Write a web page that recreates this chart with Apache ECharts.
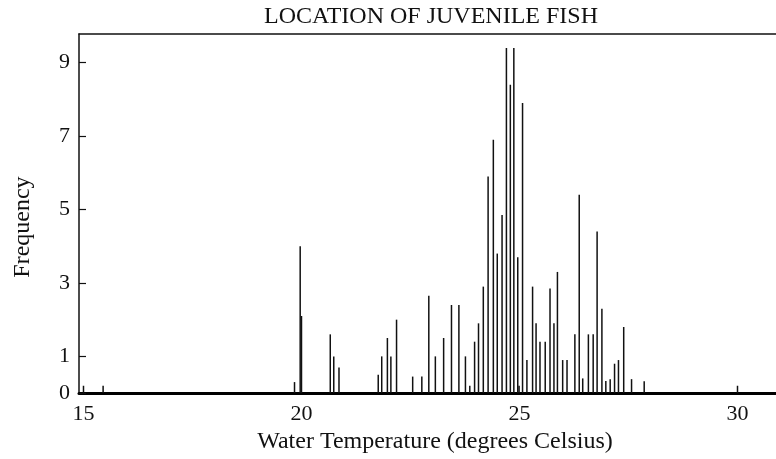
<!DOCTYPE html>
<html>
<head>
<meta charset="utf-8">
<script src="https://cdn.jsdelivr.net/npm/echarts@6/dist/echarts.min.js"></script>
<style>
  html, body { margin: 0; padding: 0; background: #fff; }
  #main { width: 776px; height: 459px; }
</style>
</head>
<body>
<div id="main"></div>
<script>
// water temperature (deg C) of each spike and its frequency
const temps = [
  15.0, 15.45, 19.84, 19.97, 20.0,
  20.66, 20.74, 20.86, 21.76, 21.84, 21.97, 22.05, 22.18,
  22.55, 22.76, 22.92, 23.07, 23.26, 23.44, 23.61, 23.76, 23.86, 23.97,
  24.06, 24.17, 24.28, 24.4, 24.49, 24.6, 24.7, 24.79, 24.87, 24.96, 24.99,
  25.07, 25.17, 25.3, 25.38, 25.47, 25.59, 25.7, 25.79, 25.87, 25.99,
  26.09, 26.27, 26.37, 26.45, 26.58, 26.69, 26.78, 26.89, 26.98,
  27.08, 27.18, 27.27, 27.39, 27.57, 27.86, 30.0
]
const freqs = [
  0.2, 0.2, 0.3, 4.0, 2.1,
  1.6, 1.0, 0.7, 0.5, 1.0, 1.5, 1.0, 2.0,
  0.45, 0.45, 2.65, 1.0, 1.5, 2.4, 2.4, 1.0, 0.2, 1.4,
  1.9, 2.9, 5.9, 6.9, 3.8, 4.85, 9.4, 8.4, 9.4, 3.7, 0.2,
  7.9, 0.9, 2.9, 1.9, 1.4, 1.4, 2.85, 1.9, 3.3, 0.9,
  0.9, 1.6, 5.4, 0.4, 1.6, 1.6, 4.4, 2.3, 0.33,
  0.38, 0.8, 0.9, 1.8, 0.38, 0.32, 0.2
]
const xTicks = [15, 20, 25, 30]
const yTicks = [0, 1, 3, 5, 7, 9]

const myChart = echarts.init(document.getElementById('main'))
const font = '"Liberation Serif", "Times New Roman", serif'
const spikes = temps.map((t, i) => [t, freqs[i]])

const option = {
  animation: false,
  title: {
    text: 'LOCATION OF JUVENILE FISH',
    left: 259,
    top: 0,
    textStyle: { fontFamily: font, fontSize: 24, fontWeight: 'normal', color: '#111' },
  },
  grid: { left: 79, right: 0, top: 34, bottom: 64, containLabel: false },
  xAxis: [
    {
      type: 'value',
      min: 14.897,
      max: 30.883,
      name: 'Water Temperature (degrees Celsius)',
      nameLocation: 'middle',
      nameGap: 30,
      nameTextStyle: { fontFamily: font, fontSize: 24, color: '#111', padding: [0, 0, 0, 15] },
      axisLine: { lineStyle: { color: '#000', width: 3 } },
      axisTick: { show: false },
      splitLine: { show: false },
      axisLabel: {
        customValues: xTicks,
        margin: 10,
        fontFamily: font,
        fontSize: 22,
        color: '#111',
      },
    },
    {
      // top frame line
      type: 'value',
      position: 'top',
      min: 14.897,
      max: 30.883,
      axisLine: { show: true, lineStyle: { color: '#111', width: 1.5 } },
      axisTick: { show: false },
      axisLabel: { show: false },
      splitLine: { show: false },
    },
  ],
  yAxis: {
    type: 'value',
    min: 0,
    max: 9.78,
    name: 'Frequency',
    nameLocation: 'middle',
    nameGap: 44,
    nameTextStyle: { fontFamily: font, fontSize: 24, color: '#111', padding: [0, 27, 0, 0] },
    axisLine: { show: true, lineStyle: { color: '#111', width: 1.5 } },
    axisTick: { show: true, inside: true, length: 7, customValues: yTicks, lineStyle: { color: '#111', width: 1.2 } },
    splitLine: { show: false },
    axisLabel: {
      customValues: yTicks,
      margin: 9,
      fontFamily: font,
      fontSize: 22,
      color: '#111',
    },
  },
  series: [
    {
      name: 'Frequency',
      type: 'custom',
      data: spikes,
      renderItem: (params, api) => {
        const base = api.coord([api.value(0), 0])
        const top = api.coord([api.value(0), api.value(1)])
        return {
          type: 'line',
          shape: { x1: base[0], y1: base[1], x2: top[0], y2: top[1] },
          style: { stroke: '#111', lineWidth: 1.5 },
        }
      },
    },
  ],
}
option && myChart.setOption(option)
</script>
</body>
</html>
